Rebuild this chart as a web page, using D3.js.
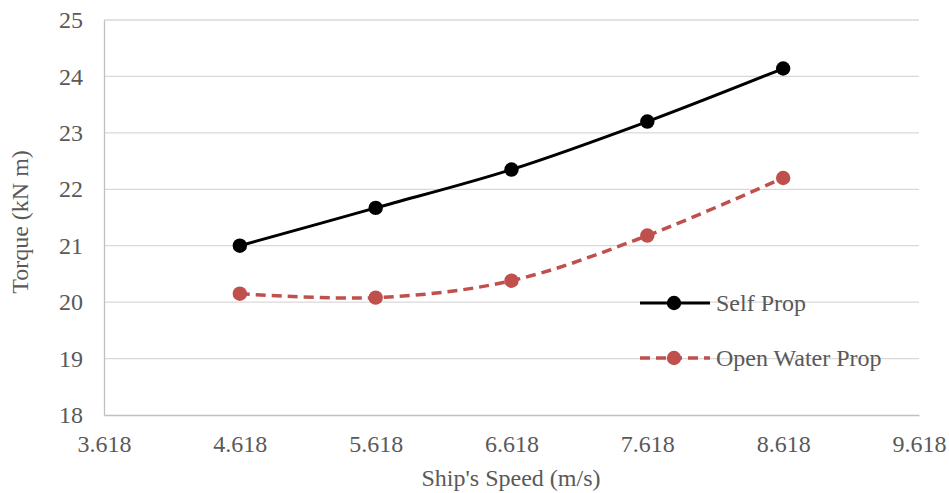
<!DOCTYPE html>
<html>
<head>
<meta charset="utf-8">
<script src="https://cdn.jsdelivr.net/npm/d3@7"></script>
<style>
  html, body { margin: 0; padding: 0; background: #fff; }
  svg text { font-family: "Liberation Serif", "Times New Roman", serif; fill: #595959; }
</style>
</head>
<body>
<svg id="chart" width="949" height="493"></svg>
<script>
// Ship speed (m/s) and propeller torque (kN m)
const speeds = [4.618, 5.618, 6.618, 7.618, 8.618];
const selfProp = [21.0, 21.67, 22.35, 23.2, 24.14];
const openWaterProp = [20.15, 20.08, 20.38, 21.18, 22.2];
const xTicks = [3.618, 4.618, 5.618, 6.618, 7.618, 8.618, 9.618];
const yTicks = [18, 19, 20, 21, 22, 23, 24, 25];
const seriesNames = ["Self Prop", "Open Water Prop"];

const svg = d3.select("#chart");
const plotLeft = 104, plotRight = 919, plotTop = 20, plotBottom = 415;
const fontSize = 24;

const x = d3.scaleLinear().domain([3.618, 9.618]).range([plotLeft, plotRight]);
const y = d3.scaleLinear().domain([18, 25]).range([plotBottom, plotTop]);

// horizontal gridlines
svg.append("g")
  .selectAll("line")
  .data(yTicks.filter(d => d > 18))
  .join("line")
  .attr("x1", plotLeft).attr("x2", plotRight)
  .attr("y1", d => y(d)).attr("y2", d => y(d))
  .attr("stroke", "#d9d9d9").attr("stroke-width", 1.3);

// axes
const yAxis = svg.append("g").attr("transform", `translate(${plotLeft},0)`)
  .call(d3.axisLeft(y).tickValues(yTicks).tickSize(0).tickPadding(21).tickFormat(d3.format("d")));
yAxis.select(".domain").attr("stroke", "#bfbfbf").attr("stroke-width", 1.3);
yAxis.selectAll("text").attr("font-size", fontSize).style("fill", "#595959");

const xAxis = svg.append("g").attr("transform", `translate(0,${plotBottom})`)
  .call(d3.axisBottom(x).tickValues(xTicks).tickSize(0).tickPadding(20).tickFormat(d3.format(".3f")));
xAxis.select(".domain").attr("stroke", "#bfbfbf").attr("stroke-width", 1.3);
xAxis.selectAll("text").attr("font-size", fontSize).style("fill", "#595959");
svg.selectAll("g").attr("font-family", null);

// axis titles
svg.append("text")
  .attr("x", 511).attr("y", 486)
  .attr("text-anchor", "middle").attr("font-size", fontSize)
  .text("Ship's Speed (m/s)");
svg.append("text")
  .attr("transform", "translate(28,222) rotate(-90)")
  .attr("text-anchor", "middle").attr("font-size", fontSize)
  .text("Torque (kN m)");

const line = d3.line()
  .x(d => x(d[0])).y(d => y(d[1]))
  .curve(d3.curveCatmullRom.alpha(0));

const selfData = speeds.map((s, i) => [s, selfProp[i]]);
const openData = speeds.map((s, i) => [s, openWaterProp[i]]);

const red = "#c0504d";
const markerR = 7.2;

// Self Prop series
svg.append("path").datum(selfData)
  .attr("d", line).attr("fill", "none")
  .attr("stroke", "#000").attr("stroke-width", 3);
svg.append("g").selectAll("circle").data(selfData).join("circle")
  .attr("cx", d => x(d[0])).attr("cy", d => y(d[1])).attr("r", markerR)
  .attr("fill", "#000");

// Open Water Prop series
svg.append("path").datum(openData)
  .attr("d", line).attr("fill", "none")
  .attr("stroke", red).attr("stroke-width", 3.5)
  .attr("stroke-dasharray", "10,6");
svg.append("g").selectAll("circle").data(openData).join("circle")
  .attr("cx", d => x(d[0])).attr("cy", d => y(d[1])).attr("r", markerR)
  .attr("fill", red);

// legend
const legend = svg.append("g");
const legendRows = [
  { name: seriesNames[0], color: "#000", dash: null, width: 3, ly: 303 },
  { name: seriesNames[1], color: red, dash: "10,6", width: 3.5, ly: 358 }
];
legendRows.forEach(r => {
  legend.append("line")
    .attr("x1", 640).attr("x2", 710).attr("y1", r.ly).attr("y2", r.ly)
    .attr("stroke", r.color).attr("stroke-width", r.width)
    .attr("stroke-dasharray", r.dash);
  legend.append("circle").attr("cx", 674).attr("cy", r.ly).attr("r", markerR).attr("fill", r.color);
  legend.append("text").attr("x", 716).attr("y", r.ly).attr("dy", "0.33em")
    .attr("font-size", fontSize).text(r.name);
});
</script>
</body>
</html>
